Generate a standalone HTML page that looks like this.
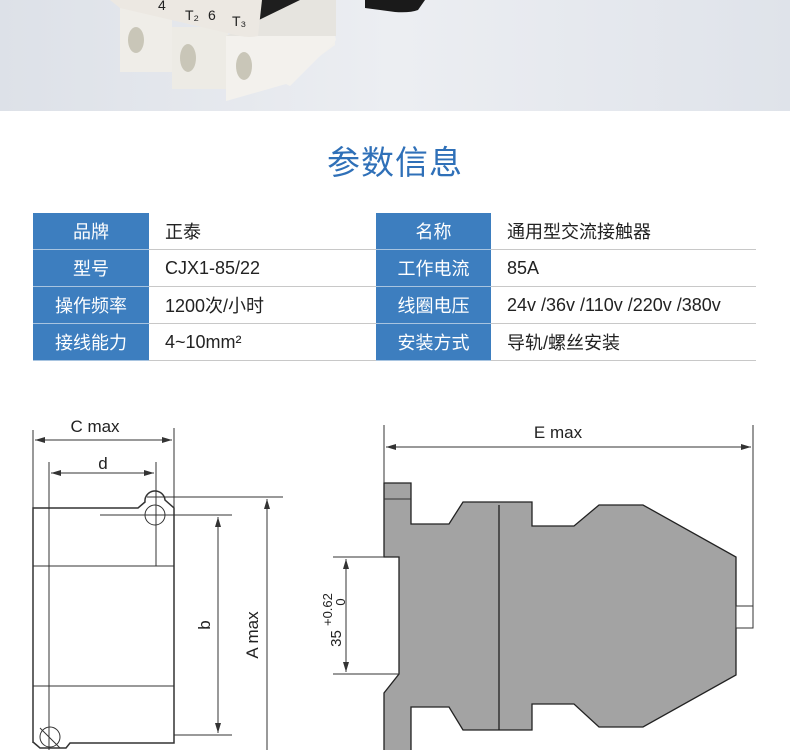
<!DOCTYPE html>
<html><head><meta charset="utf-8"><style>
body{margin:0;width:790px;height:750px;overflow:hidden;background:#fff;font-family:"Liberation Sans","Noto Sans CJK SC",sans-serif;position:relative}
.top{position:absolute;left:0;top:0;width:790px;height:111px;background:linear-gradient(90deg,#dde1e8,#eceef2 50%,#dfe3ea)}
.title{position:absolute;left:0;width:790px;top:136px;text-align:center;font-size:33px;color:#2f70b8;letter-spacing:1px}
table{position:absolute;left:33px;top:213px;border-collapse:collapse;font-size:18px}
td{height:36px;border-bottom:1px solid #c8c8c8;padding:0;color:#222}
td.h{background:#3d7ebf;color:#fff;text-align:center;border-bottom:1px solid #a8c4e0}
td.v{padding-left:16px}
</style></head><body>
<div class="top">
<svg width="790" height="111" style="position:absolute;left:0;top:0">
<path d="M365 0 H425 L418 10 Q410 13 395 12 L365 8 Z" fill="#1a1a1a"/>
<path d="M255 0 H310 L300 22 Q285 38 262 37 Z" fill="#1e1e1e"/>
<rect x="120" y="8" width="52" height="64" fill="#efede8"/>
<rect x="172" y="27" width="56" height="62" fill="#edebe5"/>
<path d="M226 36 L335 36 L335 45 L290 78 L285 84 L226 101Z" fill="#f2f0ec"/>
<path d="M226 36 L300 0 L336 0 L336 36Z" fill="#e6e4df"/>
<path d="M226 36 L335 36 L336 40 L290 86 L286 84 L226 101 Z" fill="#f3f1ed"/>
<path d="M110 0 H262 L258 36 Q250 38 240 36 L120 8 Z" fill="#ece8e2"/>
<ellipse cx="136" cy="40" rx="8" ry="13" fill="#c9c6b8"/>
<ellipse cx="188" cy="58" rx="8" ry="14" fill="#c9c6b8"/>
<ellipse cx="244" cy="66" rx="8" ry="14" fill="#c9c6b8"/>
<text x="158" y="10" font-size="14" fill="#222">4</text>
<text x="185" y="20" font-size="14" fill="#222">T₂</text>
<text x="208" y="20" font-size="14" fill="#222">6</text>
<text x="232" y="26" font-size="14" fill="#222">T₃</text>
</svg>
</div>
<div class="title">参数信息</div>
<table>
<tr><td class="h" style="width:116px">品牌</td><td class="v" style="width:211px">正泰</td><td class="h" style="width:115px">名称</td><td class="v" style="width:249px">通用型交流接触器</td></tr>
<tr><td class="h">型号</td><td class="v">CJX1-85/22</td><td class="h">工作电流</td><td class="v">85A</td></tr>
<tr><td class="h">操作频率</td><td class="v">1200次/小时</td><td class="h">线圈电压</td><td class="v">24v /36v /110v /220v /380v</td></tr>
<tr><td class="h">接线能力</td><td class="v">4~10mm²</td><td class="h">安装方式</td><td class="v">导轨/螺丝安装</td></tr>
</table>
<svg width="790" height="750" style="position:absolute;left:0;top:0" font-family="Liberation Sans, sans-serif">
<defs><marker id="a" viewBox="0 0 10 6" refX="10" refY="3" markerWidth="10" markerHeight="6" orient="auto-start-reverse"><path d="M0 0L10 3L0 6Z" fill="#333"/></marker></defs>
<g stroke="#333" fill="none" stroke-width="1">
<path d="M33 743 V508 H138 L145 502 A10 10 0 0 1 165 500 L174 508 V743 H70 L66 748 H40 L33 742" stroke-width="1.5"/>
<line x1="33" y1="566" x2="174" y2="566"/><line x1="33" y1="686" x2="174" y2="686"/>
<circle cx="155" cy="515" r="10"/><circle cx="50" cy="737" r="10"/>
<line x1="40" y1="728" x2="60" y2="748"/>
<line x1="33" y1="430" x2="33" y2="508"/><line x1="174" y1="428" x2="174" y2="508"/>
<line x1="35" y1="440" x2="172" y2="440" marker-start="url(#a)" marker-end="url(#a)"/>
<line x1="49" y1="462" x2="49" y2="750"/><line x1="156" y1="462" x2="156" y2="566"/>
<line x1="51" y1="473" x2="154" y2="473" marker-start="url(#a)" marker-end="url(#a)"/>
<line x1="147" y1="497" x2="283" y2="497"/><line x1="100" y1="515" x2="232" y2="515"/><line x1="174" y1="735" x2="232" y2="735"/>
<line x1="218" y1="517" x2="218" y2="733" marker-start="url(#a)" marker-end="url(#a)"/>
<line x1="267" y1="499" x2="267" y2="750" marker-start="url(#a)"/>
<path d="M384 483 H411 V524 H449 L463 502 H532 V526 H574 L599 505 H643 L736 557 V675 L643 727 H599 L574 704 H532 V730 H463 L449 707 H411 V752 H384 V693 L399 674 V557 H384 Z" fill="#a3a3a3" stroke="#222" stroke-width="1.3"/>
<line x1="384" y1="499" x2="411" y2="499"/>
<line x1="499" y1="505" x2="499" y2="730" stroke="#222" stroke-width="1.3"/>
<rect x="736" y="606" width="17" height="22" fill="#fff"/>
<line x1="384" y1="425" x2="384" y2="483"/><line x1="753" y1="425" x2="753" y2="606"/>
<line x1="386" y1="447" x2="751" y2="447" marker-start="url(#a)" marker-end="url(#a)"/>
<line x1="333" y1="557" x2="384" y2="557"/><line x1="333" y1="674" x2="399" y2="674"/>
<line x1="346" y1="559" x2="346" y2="672" marker-start="url(#a)" marker-end="url(#a)"/>
</g>
<g fill="#222" font-size="17">
<text x="95" y="432" text-anchor="middle">C max</text>
<text x="103" y="469" text-anchor="middle">d</text>
<text x="558" y="438" text-anchor="middle">E max</text>
<text transform="translate(210,625) rotate(-90)" text-anchor="middle">b</text>
<text transform="translate(258,635) rotate(-90)" text-anchor="middle">A max</text>
<text transform="translate(341,620) rotate(-90)" text-anchor="middle" font-size="15">35 <tspan dy="-9" font-size="13">+0.62</tspan></text>
<text transform="translate(345,602) rotate(-90)" text-anchor="middle" font-size="13">0</text>
</g>
</svg>
</body></html>
